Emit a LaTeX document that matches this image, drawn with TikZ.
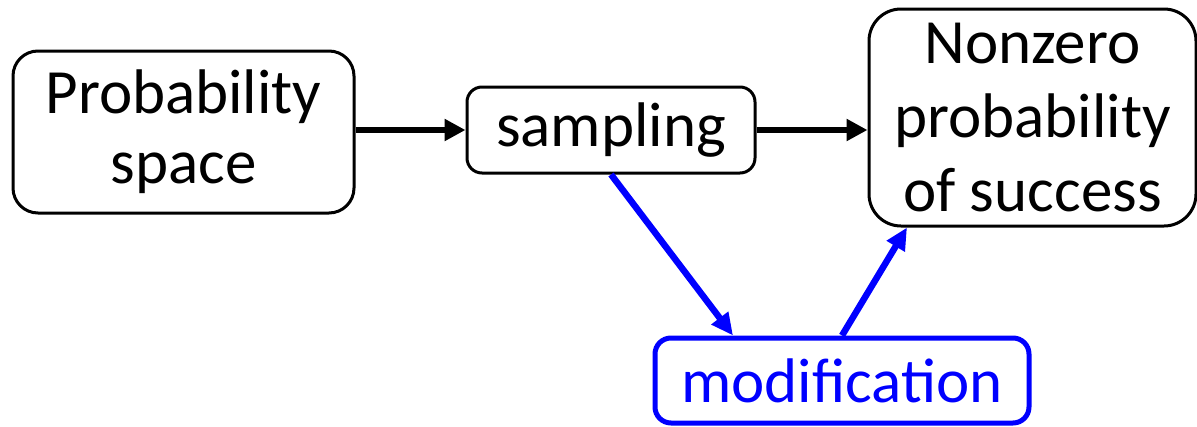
\documentclass[tikz,border=0pt]{standalone}
\usepackage{fontspec}
\setmainfont{Carlito}
\usetikzlibrary{arrows.meta,calc}
\definecolor{myblue}{RGB}{0,0,255}
\tikzset{
  box/.style={draw=black, line width=3pt, rounded corners=#1, inner sep=0pt, align=center,
    font=\fontsize{63}{72}\selectfont},
  box/.default=25pt,
  bluebox/.style={draw=myblue, text=myblue, line width=5pt, rounded corners=16pt, inner sep=0pt,
    align=center, font=\fontsize{63}{72}\selectfont},
  blackarrow/.style={draw=black, line width=6.5pt, -{Triangle[length=21pt,width=21pt]}},
  bluearrow/.style={draw=myblue, line width=6.5pt, -{Triangle[length=22pt,width=20pt]}}
}
\begin{document}
\begin{tikzpicture}[x=1pt,y=-1pt]
\useasboundingbox (0,0) rectangle (1197,426);
\node[box=25pt, minimum width=341pt, minimum height=162pt] (space) at (183.5,132)
  {Probability\\[-2pt]space};
\node[box=15pt, minimum width=288pt, minimum height=86pt] (samp) at (611,130) {sampling};
\node[box=32pt, minimum width=327pt, minimum height=217pt] (succ) at (1032.5,117.5)
  {Nonzero\\[2pt]probability\\[2pt]of success};
\node[bluebox, minimum width=374pt, minimum height=85pt] (mod) at (842,380.5) {modification};
\draw[blackarrow] (space.east |- 0,130) -- (samp.west |- 0,130);
\draw[blackarrow] (samp.east |- 0,130) -- (succ.west |- 0,130);
\coordinate (modin) at ($(mod.north)+(-109,0)$);
\coordinate (succin) at ($(succ.south)+(-125.5,0)$);
\draw[bluearrow] (samp.south) -- (modin);
\draw[bluearrow] (mod.north) -- (succin);
\end{tikzpicture}
\end{document}
